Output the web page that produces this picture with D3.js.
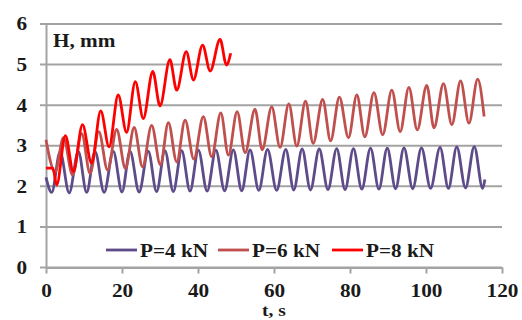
<!DOCTYPE html>
<html>
<head>
<meta charset="utf-8">
<script src="https://cdn.jsdelivr.net/npm/d3@7"></script>
<style>
  body { margin: 0; background: #fff; }
  svg text { font-family: "Liberation Serif", Tinos, "Times New Roman", "DejaVu Serif", serif; font-weight: bold; fill: #1a1a1a; }
</style>
</head>
<body>
<svg id="chart"></svg>
<script>
// axis ticks
var xTicks = [0, 20, 40, 60, 80, 100, 120];
var yTicks = [0, 1, 2, 3, 4, 5, 6];

var seriesNames = ["P=4 kN", "P=6 kN", "P=8 kN"];
var seriesColors = ["#5e4b8a", "#c0504d", "#ff0000"];

// P=4 kN : time (s) and height (mm), read at the turning points
var p4T = [0, 1.5, 3.7, 6.1, 8.5, 10.7, 12.9, 15.3, 17.7, 20.0, 22.1, 24.5, 26.9, 29.1, 31.3, 33.5,
  35.7, 37.9, 40.1, 42.4, 44.7, 47.0, 49.3, 51.5, 53.7, 56.0, 58.3, 60.7, 63.1, 65.2, 67.4, 69.6,
  71.9, 74.2, 76.5, 78.7, 80.9, 83.1, 85.4, 87.6, 89.8, 92.0, 94.2, 96.5, 98.8, 101.2, 103.7, 105.9,
  108.1, 110.4, 112.7, 114.9, 115.5];
var p4H = [2.22, 1.85, 2.85, 1.84, 2.86, 1.85, 2.86, 1.85, 2.86, 1.86, 2.87, 1.86, 2.87, 1.87, 2.88, 1.87,
  2.88, 1.88, 2.89, 1.88, 2.89, 1.89, 2.90, 1.89, 2.90, 1.90, 2.91, 1.90, 2.91, 1.91, 2.92, 1.91,
  2.92, 1.92, 2.93, 1.92, 2.93, 1.93, 2.94, 1.93, 2.94, 1.94, 2.95, 1.94, 2.95, 1.95, 2.96, 1.95,
  2.97, 1.96, 2.98, 1.95, 2.17];

// P=6 kN
var p6T = [0, 2.4, 4.6, 7.0, 9.4, 11.6, 13.9, 16.2, 18.6, 20.9, 23.2, 25.4, 27.8, 30.1, 32.2, 34.4,
  36.6, 38.9, 41.4, 43.6, 46.0, 48.0, 50.3, 52.4, 55.0, 56.9, 59.4, 61.6, 63.9, 66.0, 68.3, 70.3,
  72.8, 74.9, 77.2, 79.6, 81.8, 83.9, 86.3, 88.6, 91.0, 93.2, 95.5, 97.7, 100.2, 102.1, 104.6, 106.8,
  109.1, 111.3, 113.6, 115.3];
var p6H = [3.15, 2.35, 3.20, 2.28, 3.30, 2.32, 3.35, 2.40, 3.40, 2.44, 3.45, 2.48, 3.50, 2.53, 3.57, 2.60,
  3.63, 2.67, 3.72, 2.73, 3.81, 2.77, 3.84, 2.83, 3.90, 2.90, 3.96, 2.96, 4.03, 2.99, 4.10, 3.06,
  4.14, 3.12, 4.20, 3.20, 4.25, 3.22, 4.31, 3.27, 4.37, 3.35, 4.44, 3.39, 4.49, 3.44, 4.53, 3.52,
  4.60, 3.56, 4.64, 3.72];

// P=8 kN
var p8T = [0, 1.8, 2.8, 5.1, 7.2, 9.6, 12.0, 14.4, 16.6, 19.0, 21.2, 23.5, 25.6, 28.1, 30.0, 32.6,
  34.4, 36.9, 38.8, 41.2, 43.2, 45.8, 47.5, 48.6];
var p8H = [2.45, 2.45, 2.03, 3.25, 2.36, 3.52, 2.57, 3.86, 2.97, 4.25, 3.33, 4.58, 3.67, 4.83, 3.98, 5.12,
  4.37, 5.32, 4.62, 5.48, 4.84, 5.62, 4.99, 5.28];

var W = 522, H = 320;
var margin = {top: 24, right: 20, bottom: 52.5, left: 46},
    width = W - margin.left - margin.right,
    height = H - margin.top - margin.bottom;
var sx = 1.18; // text in the picture is stretched sideways
var font = "'Liberation Serif', Tinos, 'Times New Roman', 'DejaVu Serif', serif";

var svg = d3.select("#chart").attr("width", W).attr("height", H)
  .append("g")
    .attr("transform", "translate(" + margin.left + "," + margin.top + ")");

var x = d3.scaleLinear().domain([0, 120]).range([0, width]);
var y = d3.scaleLinear().domain([0, 6]).range([height, 0]);

// horizontal grid lines (they stick out left as ticks)
svg.append("g")
  .selectAll("line")
  .data(yTicks)
  .join("line")
    .attr("x1", -6)
    .attr("x2", width)
    .attr("y1", d => y(d))
    .attr("y2", d => y(d))
    .attr("stroke", "#a3a3a3")
    .attr("stroke-width", 2);

// y axis
var yAxis = svg.append("g")
  .call(d3.axisLeft(y).tickValues(yTicks).tickFormat(d3.format("d")).tickSize(0).tickSizeOuter(0));
yAxis.attr("font-family", null).attr("font-size", null);
yAxis.select(".domain").attr("stroke", "#a3a3a3").attr("stroke-width", 2);
yAxis.selectAll("text")
  .attr("x", -16)
  .attr("dy", "0.33em")
  .attr("transform", "scale(" + sx + ",1)")
  .attr("fill", "#1a1a1a")
  .style("font-size", "18px")
  .style("font-family", font)
  .style("font-weight", "bold");

// x axis
var xAxis = svg.append("g")
  .attr("transform", "translate(0," + height + ")")
  .call(d3.axisBottom(x).tickValues(xTicks).tickSize(6).tickSizeOuter(0));
xAxis.attr("font-family", null).attr("font-size", null);
xAxis.select(".domain").attr("stroke", "#a3a3a3").attr("stroke-width", 2);
xAxis.selectAll(".tick line").attr("stroke", "#a3a3a3").attr("stroke-width", 2);
xAxis.selectAll("text")
  .attr("y", 30)
  .attr("dy", 0)
  .attr("transform", "scale(" + sx + ",1)")
  .attr("fill", "#1a1a1a")
  .style("font-size", "18px")
  .style("font-family", font)
  .style("font-weight", "bold");

// axis titles
svg.append("text")
  .attr("transform", "translate(7,23) scale(" + sx + ",1)")
  .style("font-size", "18px")
  .style("font-family", font)
  .text("H, mm");
svg.append("text")
  .attr("transform", "translate(" + (width / 2) + "," + (height + 48.5) + ") scale(" + sx + ",1)")
  .attr("text-anchor", "middle")
  .style("font-size", "16.5px")
  .style("font-family", font)
  .text("t, s");

// series
var series = [
  {name: seriesNames[0], color: seriesColors[0], pts: d3.zip(p4T, p4H)},
  {name: seriesNames[1], color: seriesColors[1], pts: d3.zip(p6T, p6H)},
  {name: seriesNames[2], color: seriesColors[2], pts: d3.zip(p8T, p8H)}
];

var line = d3.line()
  .curve(d3.curveMonotoneX)
  .x(function(d) { return x(d[0]); })
  .y(function(d) { return y(d[1]); });

svg.append("g")
  .selectAll("path")
  .data(series)
  .join("path")
    .attr("fill", "none")
    .attr("stroke", d => d.color)
    .attr("stroke-width", 2.8)
    .attr("stroke-linejoin", "round")
    .attr("d", d => line(d.pts));

// legend
var legendX = [60, 172, 286];
var legend = svg.append("g")
  .attr("transform", "translate(0," + (height - 17.5) + ")");
var item = legend.selectAll("g")
  .data(series)
  .join("g")
    .attr("transform", (d, i) => "translate(" + legendX[i] + ",0)");
item.append("line")
  .attr("x1", 0).attr("x2", 31)
  .attr("stroke", d => d.color)
  .attr("stroke-width", 2.8);
item.append("text")
  .attr("transform", "translate(34,7) scale(" + sx + ",1)")
  .style("font-size", "18px")
  .style("font-family", font)
  .text(d => d.name);
</script>
</body>
</html>
